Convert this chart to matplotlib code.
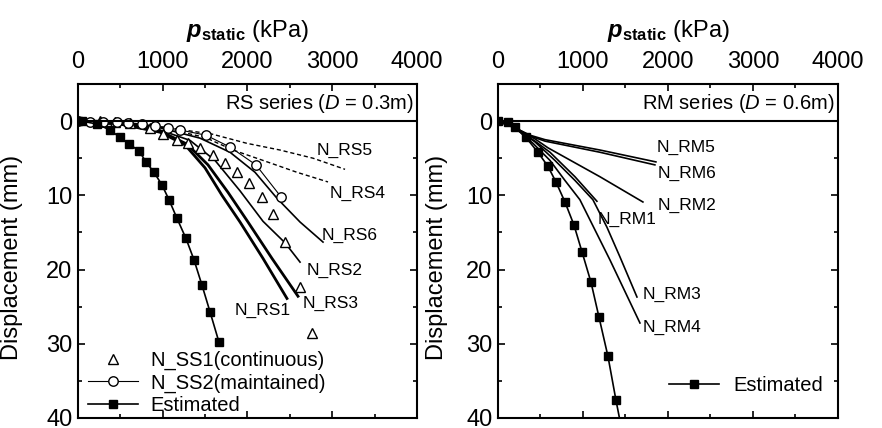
import matplotlib
matplotlib.use('Agg')
import matplotlib.pyplot as plt
from matplotlib.ticker import MultipleLocator

plt.rcParams['font.family'] = ['Liberation Sans', 'DejaVu Sans']
plt.rcParams['mathtext.fontset'] = 'custom'
plt.rcParams['mathtext.rm'] = 'Liberation Sans'
plt.rcParams['mathtext.it'] = 'Liberation Sans:italic'
plt.rcParams['mathtext.bf'] = 'Liberation Sans:bold'
plt.rcParams['mathtext.bfit'] = 'Liberation Sans:italic:bold'

# ---- RS series (D = 0.3 m) ----
rs_est_p = [0, 47, 224, 378, 496, 602, 720, 802, 897, 991, 1074, 1168, 1274, 1369, 1463, 1558, 1664]
rs_est_d = [0, 0.0, 0.4, 1.2, 2.2, 3.1, 4.0, 5.5, 6.9, 8.6, 10.6, 13.1, 15.8, 18.7, 22.1, 25.7, 29.8]

ss1_p = [260, 437, 614, 850, 1003, 1168, 1298, 1440, 1593, 1735, 1876, 2018, 2171, 2301, 2443, 2620, 2761]
ss1_d = [0.05, 0.1, 0.3, 0.9, 1.75, 2.6, 3.0, 3.6, 4.6, 5.7, 6.9, 8.4, 10.2, 12.5, 16.3, 22.4, 28.6]

ss2_p = [0, 142, 295, 460, 590, 755, 909, 1062, 1204, 1510, 1794, 2100, 2395]
ss2_d = [0, 0.1, 0.1, 0.1, 0.2, 0.4, 0.7, 0.9, 1.2, 1.9, 3.5, 5.9, 10.2]

rs1_p = [0, 496, 968, 1263, 1499, 1699, 1912, 2183, 2466]
rs1_d = [0, 0.4, 1.5, 3.2, 6.3, 10.0, 13.6, 18.5, 23.9]
rs2_p = [0, 496, 968, 1322, 1617, 1912, 2183, 2443, 2620]
rs2_d = [0, 0.35, 1.2, 2.6, 5.3, 9.4, 13.5, 16.4, 19.0]
rs3_p = [0, 496, 968, 1286, 1534, 1770, 2006, 2289, 2596]
rs3_d = [0, 0.4, 1.35, 3.1, 5.9, 9.6, 13.6, 18.5, 23.6]
rs4_p = [0, 500, 1000, 1500, 1829, 2183, 2584, 2950]
rs4_d = [0, 0.15, 0.9, 2.2, 3.9, 5.3, 6.9, 8.2]
rs5_p = [0, 500, 1000, 1581, 1994, 2384, 2773, 3151]
rs5_d = [0, 0.15, 0.8, 1.75, 3.0, 3.9, 5.0, 6.5]
rs6_p = [0, 496, 968, 1440, 1794, 2089, 2348, 2620, 2891]
rs6_d = [0, 0.3, 0.9, 2.3, 4.2, 6.9, 10.4, 13.6, 16.3]

rs_labels = ['N_RS1', 'N_RS2', 'N_RS3', 'N_RS4', 'N_RS5', 'N_RS6']
rs_label_p = [1853, 2702, 2655, 2974, 2820, 2879]
rs_label_d = [25.5, 20.1, 24.5, 9.7, 3.9, 15.4]

# ---- RM series (D = 0.6 m) ----
rm_est_p = [0, 118, 200, 329, 470, 588, 682, 788, 894, 988, 1094, 1188, 1294, 1388, 1494]
rm_est_d = [0, 0.15, 0.8, 2.2, 4.2, 6.1, 8.2, 10.9, 14.0, 17.6, 21.7, 26.4, 31.7, 37.6, 43.8]

rm1_p = [0, 200, 435, 612, 906, 1164]
rm1_d = [0, 0.9, 2.7, 4.2, 7.5, 10.8]
rm2_p = [0, 200, 435, 588, 1200, 1705]
rm2_d = [0, 0.9, 2.4, 3.6, 7.5, 10.9]
rm3_p = [0, 200, 435, 670, 906, 1117, 1282, 1435, 1635]
rm3_d = [0, 0.9, 2.8, 5.3, 8.0, 10.6, 14.3, 18.3, 23.7]
rm4_p = [0, 200, 412, 612, 788, 964, 1317, 1670]
rm4_d = [0, 0.9, 3.0, 5.3, 8.0, 10.6, 18.7, 27.2]
rm5_p = [0, 200, 376, 553, 1200, 1858]
rm5_d = [0, 0.9, 1.9, 2.5, 3.9, 5.5]
rm6_p = [0, 200, 376, 553, 1200, 1846]
rm6_d = [0, 0.9, 2.0, 2.7, 4.2, 5.9]

rm_labels = ['N_RM1', 'N_RM2', 'N_RM3', 'N_RM4', 'N_RM5', 'N_RM6']
rm_label_p = [1176, 1882, 1700, 1700, 1870, 1882]
rm_label_d = [13.3, 11.3, 23.3, 27.8, 3.6, 7.1]


def style_axes(ax, header):
    ax.set_xlim(0, 4000)
    ax.set_ylim(40, -5)
    ax.xaxis.tick_top()
    ax.xaxis.set_label_position('top')
    ax.set_xticks([0, 1000, 2000, 3000, 4000])
    ax.xaxis.set_minor_locator(MultipleLocator(500))
    ax.set_yticks([0, 10, 20, 30, 40])
    ax.yaxis.set_minor_locator(MultipleLocator(5))
    ax.tick_params(which='both', direction='in', top=True, bottom=True,
                   left=True, right=True, width=1.2)
    ax.tick_params(which='major', length=5, labelsize=17)
    ax.tick_params(which='minor', length=3)
    ax.tick_params(axis='x', pad=8)
    ax.tick_params(axis='y', pad=4)
    for s in ax.spines.values():
        s.set_linewidth(1.5)
    ax.axhline(0, color='black', lw=1.5)
    ax.set_xlabel(r'$\mathbfit{p}_{\mathbf{static}}$ (kPa)', fontsize=17)
    ax.xaxis.set_label_coords(0.5, 1.14)
    ax.set_ylabel('Displacement (mm)', fontsize=17)
    ax.text(3960, -2.4, header, ha='right', va='center', fontsize=14.5)


fig = plt.figure(figsize=(8.82, 4.28), dpi=100)
ax1 = fig.add_axes([0.0884, 0.0234, 0.3844, 0.7804])
ax2 = fig.add_axes([0.5646, 0.0234, 0.3855, 0.7804])

# left panel
for p, d in [(rs2_p, rs2_d), (rs6_p, rs6_d)]:
    ax1.plot(p, d, color='black', lw=1.2)
for p, d in [(rs1_p, rs1_d), (rs3_p, rs3_d)]:
    ax1.plot(p, d, color='black', lw=2.0)
for p, d in [(rs4_p, rs4_d), (rs5_p, rs5_d)]:
    ax1.plot(p, d, color='black', lw=1.0, ls=(0, (3, 2)))
ax1.plot(ss1_p, ss1_d, ls='none', marker='^', ms=6.5, mfc='white', mec='black',
         mew=1.0, label='N_SS1(continuous)')
ax1.plot(ss2_p, ss2_d, color='black', lw=0.8, marker='o', ms=6.8, mfc='white',
         mec='black', mew=1.0, label='N_SS2(maintained)')
ax1.plot(rs_est_p, rs_est_d, color='black', lw=1.2, marker='s', ms=5.8,
         label='Estimated')
for name, x, y in zip(rs_labels, rs_label_p, rs_label_d):
    ax1.text(x, y, name, ha='left', va='center', fontsize=12.5)
style_axes(ax1, r'RS series ($D$ = 0.3m)')
ax1.yaxis.set_label_coords(-0.162, 0.48)
ax1.legend(loc='lower left', bbox_to_anchor=(0.03, 0.01), frameon=False,
           fontsize=14.5, handlelength=2.5, handletextpad=0.6,
           labelspacing=0.15, borderpad=0, borderaxespad=0)

# right panel
for p, d in [(rm1_p, rm1_d), (rm2_p, rm2_d), (rm3_p, rm3_d), (rm4_p, rm4_d),
             (rm5_p, rm5_d), (rm6_p, rm6_d)]:
    ax2.plot(p, d, color='black', lw=1.2)
ax2.plot(rm_est_p, rm_est_d, color='black', lw=1.2, marker='s', ms=5.8,
         label='Estimated')
for name, x, y in zip(rm_labels, rm_label_p, rm_label_d):
    ax2.text(x, y, name, ha='left', va='center', fontsize=12.5)
style_axes(ax2, r'RM series ($D$ = 0.6m)')
ax2.yaxis.set_label_coords(-0.147, 0.48)
ax2.legend(loc='center left', bbox_to_anchor=(0.503, 0.096), frameon=False,
           fontsize=14.5, handlelength=2.5, handletextpad=0.7,
           borderpad=0, borderaxespad=0)

fig.savefig('out.png', dpi=100)
